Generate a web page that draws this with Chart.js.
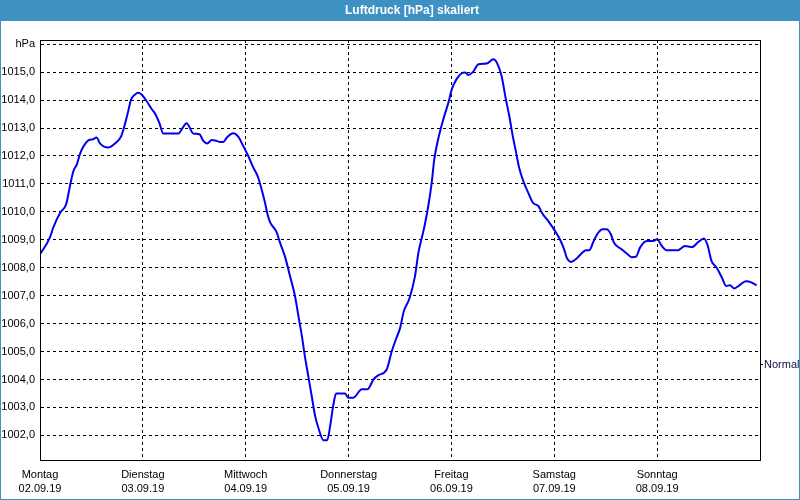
<!DOCTYPE html>
<html>
<head>
<meta charset="utf-8">
<script src="https://cdn.jsdelivr.net/npm/chart.js@4/dist/chart.umd.min.js"></script>
<style>
  body { margin: 0; background: #fff; }
  #wrap { width: 800px; height: 500px; }
</style>
</head>
<body>
<div id="wrap"><canvas id="druckChart" width="800" height="500"></canvas></div>
<script>
// Luftdruck over one week, x in hours since Monday 00:00
const hours = [0, 2.3, 3.1, 4.7, 6.1, 7.0, 7.8, 8.6, 9.3, 10.1, 11.3, 12.4, 13.2, 14.0, 15.9, 17.5, 18.9, 19.8, 20.6, 21.2,
  22.2, 22.9, 23.7, 24.9, 26.1, 26.8, 27.8, 28.8, 32.3, 33.1, 34.2, 35.8, 37.2, 38.1, 39.0, 40.1, 41.2, 42.0, 42.8, 43.6,
  45.1, 46.3, 47.4, 48.4, 49.8, 50.9, 51.7, 52.5, 53.0, 53.7, 55.1, 56.0, 57.2, 58.3, 59.5, 60.3, 61.1, 61.8, 62.6, 63.4,
  64.2, 65.2, 66.1, 67.0, 67.7, 68.4, 69.1, 71.2, 71.9, 73.1, 75.1, 76.4, 77.8, 78.9, 80.9, 82.1, 83.2, 84.0, 84.9, 86.2,
  87.5, 88.3, 89.1, 89.8, 90.6, 91.4, 92.0, 92.9, 94.1, 95.3, 96.1, 97.2, 98.4, 99.2, 99.9, 101.0, 102.3, 104.2, 105.8, 106.6,
  107.7, 108.7, 109.5, 110.3, 111.1, 111.8, 112.9, 113.9, 115.1, 116.3, 117.1, 118.6, 120.2, 121.3, 122.3, 122.9, 123.9, 125.2, 126.4, 127.4,
  128.2, 129.1, 130.0, 131.3, 132.2, 133.2, 133.9, 135.7, 136.9, 138.1, 139.1, 140.0, 141.6, 143.1, 144.0, 145.1, 146.2, 148.9, 150.5, 152.1,
  153.6, 154.9, 155.7, 156.7, 157.9, 159.1, 160.1, 161.0, 162.0, 163.2, 164.7, 166.1, 167.2]
const druck = [1008.48, 1009.08, 1009.44, 1009.97, 1010.27, 1010.93, 1011.46, 1011.70, 1012.06, 1012.33, 1012.56, 1012.60, 1012.66, 1012.45, 1012.30, 1012.45, 1012.69, 1013.13, 1013.61, 1014.00,
  1014.20, 1014.26, 1014.20, 1013.96, 1013.67, 1013.53, 1013.20, 1012.80, 1012.80, 1012.96, 1013.17, 1012.80, 1012.78, 1012.54, 1012.45, 1012.57, 1012.54, 1012.50, 1012.50, 1012.66,
  1012.81, 1012.68, 1012.36, 1012.06, 1011.58, 1011.23, 1010.81, 1010.33, 1009.97, 1009.62, 1009.31, 1008.90, 1008.38, 1007.72, 1006.99, 1006.27, 1005.56, 1004.84, 1004.12, 1003.41,
  1002.69, 1002.15, 1001.83, 1001.83, 1002.33, 1003.05, 1003.50, 1003.50, 1003.35, 1003.35, 1003.65, 1003.65, 1004.00, 1004.15, 1004.36, 1005.02, 1005.50, 1005.83, 1006.45, 1006.90,
  1007.70, 1008.54, 1009.08, 1009.55, 1010.21, 1011.05, 1011.88, 1012.60, 1013.31, 1013.91, 1014.39, 1014.75, 1014.96, 1014.99, 1014.90, 1015.00, 1015.28, 1015.31, 1015.46, 1015.34,
  1014.86, 1014.03, 1013.43, 1012.72, 1012.12, 1011.58, 1011.05, 1010.69, 1010.31, 1010.21, 1009.97, 1009.67, 1009.31, 1009.02, 1008.66, 1008.36, 1008.21, 1008.33, 1008.52, 1008.63,
  1008.63, 1008.92, 1009.20, 1009.38, 1009.38, 1009.20, 1008.90, 1008.66, 1008.51, 1008.38, 1008.40, 1008.72, 1008.96, 1008.96, 1009.02, 1008.78, 1008.63, 1008.63, 1008.78, 1008.74,
  1008.92, 1009.05, 1008.84, 1008.24, 1008.00, 1007.65, 1007.35, 1007.37, 1007.26, 1007.37, 1007.52, 1007.47, 1007.37]

const dayNames = ['Montag', 'Dienstag', 'Mittwoch', 'Donnerstag', 'Freitag', 'Samstag', 'Sonntag']
const dayDates = ['02.09.19', '03.09.19', '04.09.19', '05.09.19', '06.09.19', '07.09.19', '08.09.19']
const yTicks = [1002, 1003, 1004, 1005, 1006, 1007, 1008, 1009, 1010, 1011, 1012, 1013, 1014, 1015, 1016]
const normalValue = 1004.52
const chartTitle = 'Luftdruck [hPa] skaliert'

const yMin = 1001.12
const yMax = 1016.15
const frameColor = '#3d91c3'

// title bar, window frame and plot box
const framePlugin = {
    id: 'frame',
    beforeDraw(chart) {
        const ctx = chart.ctx
        ctx.save()
        ctx.fillStyle = '#ffffff'
        ctx.fillRect(0, 0, chart.width, chart.height)
        ctx.fillStyle = frameColor
        ctx.fillRect(0, 0, chart.width, 21)
        ctx.fillRect(0, 0, 1, chart.height)
        ctx.fillRect(chart.width - 1, 0, 1, chart.height)
        ctx.fillRect(0, chart.height - 1, chart.width, 1)
        ctx.fillStyle = '#ffffff'
        ctx.font = 'bold 12px "Liberation Sans", Arial, sans-serif'
        ctx.textAlign = 'center'
        ctx.textBaseline = 'middle'
        ctx.fillText(chartTitle, 412, 11)
        ctx.restore()
    },
    afterDraw(chart) {
        const a = chart.chartArea
        const ctx = chart.ctx
        ctx.save()
        ctx.strokeStyle = '#000'
        ctx.lineWidth = 1
        ctx.strokeRect(Math.round(a.left) + 0.5, Math.round(a.top) + 0.5, Math.round(a.right - a.left), Math.round(a.bottom - a.top))
        ctx.restore()
    }
}

const points = hours.map((h, i) => ({ x: h, y: druck[i] }))

const ctx = document.getElementById('druckChart').getContext('2d')
const druckChart = new Chart(ctx, {
    type: 'line',
    data: {
        datasets: [{
            label: 'Luftdruck',
            data: points,
            borderColor: '#0000ee',
            borderWidth: 2,
            pointRadius: 0,
            cubicInterpolationMode: 'monotone',
            fill: false
        }]
    },
    options: {
        responsive: false,
        animation: false,
        layout: { padding: { top: 40, left: 0, right: 0, bottom: 0 } },
        plugins: {
            legend: { display: false },
            title: { display: false },
            tooltip: { enabled: false }
        },
        scales: {
            x: {
                type: 'linear',
                min: 0,
                max: 168,
                afterBuildTicks: (scale) => {
                    scale.ticks = [0, 24, 48, 72, 96, 120, 144, 168].map(v => ({ value: v }))
                },
                afterFit: (scale) => { scale.height = 40 },
                grid: { color: '#000', lineWidth: 1, drawTicks: false, tickLength: 0 },
                border: { display: true, color: '#000', dash: [3, 3] },
                ticks: {
                    autoSkip: false,
                    maxRotation: 0,
                    padding: 7,
                    color: '#000',
                    font: { family: '"Liberation Sans", Arial, sans-serif', size: 11, lineHeight: 1.36 },
                    callback: (value) => {
                        const i = Math.round(value / 24)
                        return i < dayNames.length ? [dayNames[i], dayDates[i]] : ''
                    }
                }
            },
            y: {
                position: 'left',
                min: yMin,
                max: yMax,
                afterBuildTicks: (scale) => {
                    scale.ticks = yTicks.map(v => ({ value: v }))
                },
                afterFit: (scale) => { scale.width = 40 },
                grid: { color: '#000', lineWidth: 1, drawTicks: false, tickLength: 0 },
                border: { display: true, color: '#000', dash: [3, 3] },
                ticks: {
                    padding: 5,
                    color: '#000',
                    font: { family: '"Liberation Sans", Arial, sans-serif', size: 11 },
                    callback: (value) => value === 1016 ? 'hPa' : value.toFixed(1).replace('.', ',')
                }
            },
            yNormal: {
                position: 'right',
                min: yMin,
                max: yMax,
                afterBuildTicks: (scale) => {
                    scale.ticks = [{ value: normalValue }]
                },
                afterFit: (scale) => { scale.width = 40 },
                grid: { drawOnChartArea: false, drawTicks: true, tickLength: 3, color: '#000' },
                border: { display: true, color: '#000' },
                ticks: {
                    padding: 1,
                    color: '#101040',
                    font: { family: '"Liberation Sans", Arial, sans-serif', size: 11 },
                    callback: () => 'Normal'
                }
            }
        }
    },
    plugins: [framePlugin]
})
</script>
</body>
</html>
